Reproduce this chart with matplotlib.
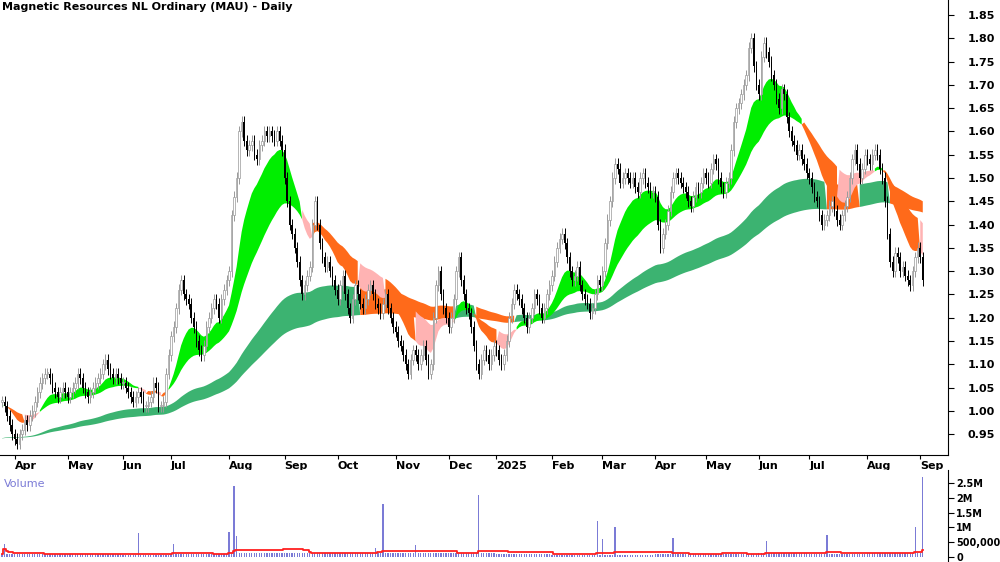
import numpy as np
import pandas as pd
import matplotlib
matplotlib.use("Agg")
import matplotlib.pyplot as plt
from matplotlib.ticker import FixedLocator

title = "Magnetic Resources NL Ordinary (MAU) - Daily"

# trading days per month segment (first segment = end of March 2024)
month_lengths = [5, 21, 22, 19, 23, 22, 21, 23, 21, 19, 22, 20, 21, 20, 21, 20, 23, 21, 2]
month_labels = ["", "Apr", "May", "Jun", "Jul", "Aug", "Sep", "Oct", "Nov", "Dec",
                "2025", "Feb", "Mar", "Apr", "May", "Jun", "Jul", "Aug", "Sep"]

# daily closes
closes = [
    1.02, 1.01, 0.99, 0.97, 0.95,
    0.94, 0.93, 0.95, 0.96, 0.98, 0.97, 0.99, 1.00, 1.02, 1.04, 1.06, 1.07, 1.08, 1.08, 1.07, 1.05, 1.04, 1.03, 1.04, 1.05, 1.04,
    1.03, 1.04, 1.05, 1.06, 1.08, 1.07, 1.05, 1.04, 1.03, 1.04, 1.05, 1.06, 1.07, 1.08, 1.10, 1.11, 1.09, 1.08, 1.07, 1.08, 1.07, 1.06,
    1.06, 1.05, 1.04, 1.03, 1.02, 1.03, 1.04, 1.03, 1.01, 1.01, 1.02, 1.03, 1.06, 1.05, 1.01, 1.01, 1.02, 1.08, 1.12,
    1.16, 1.18, 1.22, 1.26, 1.28, 1.25, 1.24, 1.23, 1.20, 1.18, 1.15, 1.13, 1.12, 1.14, 1.18, 1.20, 1.22, 1.24, 1.23, 1.20, 1.24, 1.26, 1.28,
    1.30, 1.42, 1.46, 1.50, 1.60, 1.62, 1.58, 1.56, 1.57, 1.58, 1.55, 1.54, 1.57, 1.58, 1.60, 1.59, 1.60, 1.59, 1.58, 1.60, 1.58, 1.56,
    1.50, 1.45, 1.40, 1.38, 1.35, 1.32, 1.28, 1.25, 1.27, 1.29, 1.31, 1.40, 1.45, 1.40, 1.36, 1.33, 1.31, 1.32, 1.30, 1.28, 1.26,
    1.24, 1.27, 1.29, 1.25, 1.22, 1.20, 1.24, 1.27, 1.25, 1.23, 1.22, 1.24, 1.26, 1.27, 1.25, 1.23, 1.22, 1.21, 1.23, 1.25, 1.22, 1.20, 1.18,
    1.17, 1.15, 1.14, 1.12, 1.10, 1.08, 1.11, 1.13, 1.12, 1.10, 1.12, 1.14, 1.11, 1.08, 1.10, 1.20, 1.27, 1.30, 1.25, 1.22, 1.20,
    1.18, 1.20, 1.24, 1.30, 1.33, 1.28, 1.25, 1.22, 1.21, 1.18, 1.14, 1.10, 1.08, 1.11, 1.13, 1.12, 1.10, 1.12, 1.14,
    1.13, 1.11, 1.10, 1.12, 1.15, 1.20, 1.23, 1.26, 1.25, 1.24, 1.22, 1.20, 1.18, 1.20, 1.22, 1.25, 1.24, 1.22, 1.20, 1.22, 1.25, 1.27,
    1.29, 1.32, 1.35, 1.37, 1.38, 1.36, 1.33, 1.30, 1.28, 1.29, 1.31, 1.27, 1.25, 1.24, 1.23, 1.21, 1.22, 1.25, 1.28, 1.27,
    1.30, 1.36, 1.41, 1.45, 1.50, 1.53, 1.52, 1.49, 1.50, 1.51, 1.50, 1.49, 1.50, 1.48, 1.47, 1.50, 1.51, 1.49, 1.48, 1.47, 1.47,
    1.46, 1.40, 1.35, 1.38, 1.40, 1.43, 1.47, 1.50, 1.51, 1.50, 1.49, 1.48, 1.47, 1.45, 1.44, 1.46, 1.48, 1.47, 1.49, 1.51,
    1.50, 1.49, 1.52, 1.54, 1.53, 1.50, 1.48, 1.47, 1.49, 1.50, 1.56, 1.62, 1.65, 1.66, 1.68, 1.70, 1.72, 1.78, 1.80, 1.74, 1.70,
    1.68, 1.76, 1.79, 1.77, 1.75, 1.72, 1.70, 1.67, 1.65, 1.69, 1.68, 1.63, 1.60, 1.58, 1.57, 1.55, 1.56, 1.54, 1.53, 1.51,
    1.50, 1.48, 1.46, 1.45, 1.42, 1.40, 1.41, 1.42, 1.44, 1.45, 1.43, 1.41, 1.40, 1.42, 1.44, 1.46, 1.50, 1.54, 1.56, 1.53, 1.50, 1.52, 1.55,
    1.54, 1.53, 1.55, 1.56, 1.55, 1.52, 1.50, 1.45, 1.38, 1.32, 1.30, 1.34, 1.33, 1.30, 1.31, 1.29, 1.28, 1.27, 1.30, 1.33, 1.35,
    1.33, 1.28,
]

# typical daily volume per month segment, plus the visible spikes (day index -> volume)
month_volume = [90e3, 100e3, 90e3, 80e3, 90e3, 150e3, 140e3, 150e3, 130e3, 120e3, 100e3,
                80e3, 60e3, 100e3, 110e3, 120e3, 110e3, 130e3, 150e3]
spike_days = [1, 54, 68, 90, 92, 93, 148, 151, 164, 189, 236, 238, 243, 266, 303, 327, 362, 365]
spike_vols = [430e3, 800e3, 450e3, 850e3, 2.4e6, 700e3, 300e3, 1.8e6, 400e3, 2.1e6,
              1.2e6, 620e3, 1.0e6, 650e3, 550e3, 750e3, 1.0e6, 2.7e6]

price_ticks = [0.95, 1.00, 1.05, 1.10, 1.15, 1.20, 1.25, 1.30, 1.35, 1.40, 1.45,
               1.50, 1.55, 1.60, 1.65, 1.70, 1.75, 1.80, 1.85]
vol_ticks = [0, 500e3, 1e6, 1.5e6, 2e6, 2.5e6]
vol_tick_labels = ["0", "500,000", "1M", "1.5M", "2M", "2.5M"]

# ribbon averages and the levels they stood at when the chart begins
short_spans = [14, 18, 22, 26, 31, 37]
long_spans = [110, 122, 134, 146, 158, 170]
short_seed = 1.01
long_seed = 0.94


def ema(values, span, seed):
    alpha = 2.0 / (span + 1)
    out = np.empty(len(values))
    prev = seed
    for i, v in enumerate(values):
        prev = prev + alpha * (v - prev)
        out[i] = prev
    return out


def smooth_mask(mask, days=7):
    return pd.Series(mask.astype(float)).rolling(days, center=True, min_periods=1).mean().to_numpy() > 0.5


cl = np.asarray(closes, dtype=float)
n = len(cl)
x = np.arange(n)
opens = np.r_[cl[0], cl[:-1]]
highs = np.maximum(opens, cl) + 0.012
lows = np.minimum(opens, cl) - 0.012

month_starts = np.cumsum([0] + month_lengths[:-1])
seg = np.repeat(np.arange(len(month_lengths)), month_lengths)[:n]
volume = np.array([month_volume[s] for s in seg], dtype=float)
for d, v in zip(spike_days, spike_vols):
    if d < n:
        volume[d] = v
vol_avg = pd.Series(volume).rolling(30, min_periods=1).mean().to_numpy()

short = np.column_stack([ema(cl, s, short_seed) for s in short_spans])
long = np.column_stack([ema(cl, s, long_seed) for s in long_spans])
s_lo, s_hi = short.min(1), short.max(1)
l_lo, l_hi = long.min(1), long.max(1)

fig = plt.figure(figsize=(10, 5.62), dpi=100)
ax = fig.add_axes([0.0, 0.19, 0.948, 0.81])
axv = fig.add_axes([0.0, 0.0, 0.948, 0.164])

up = smooth_mask(short[:, 0] > short[:, -1], 3)

# long-term ribbon: orange while the falling short ribbon sits inside or below it
bear_long = smooth_mask((s_lo < l_hi) & ~up, 5)
ax.fill_between(x, l_lo, l_hi, where=~bear_long, color="#3cb371", lw=0, interpolate=True, zorder=1)
ax.fill_between(x, l_lo, l_hi, where=bear_long, color="#ff6a1a", lw=0, interpolate=True, zorder=1)

# short-term ribbon
width = s_hi - s_lo
widening = smooth_mask(np.r_[True, np.diff(width) > 0], 9)
ax.fill_between(x, s_lo, s_hi, where=up, color="#00ee00", lw=0, interpolate=True, zorder=2)
ax.fill_between(x, s_lo, s_hi, where=~up & widening, color="#ff6a1a", lw=0, interpolate=True, zorder=2)
ax.fill_between(x, s_lo, s_hi, where=~up & ~widening, color="#ffb3b3", lw=0, interpolate=True, zorder=2)

# candles
for i in range(n):
    o, c = opens[i], cl[i]
    if c >= o:
        ax.vlines(i, lows[i], highs[i], color="#999999", lw=0.7, zorder=3)
        ax.bar(i, max(c - o, 0.003), bottom=o, width=0.6, color="white",
               edgecolor="#999999", lw=0.5, zorder=4)
    else:
        ax.vlines(i, lows[i], highs[i], color="black", lw=0.7, zorder=3)
        ax.bar(i, o - c, bottom=c, width=0.6, color="black", lw=0, zorder=4)

for a in (ax, axv):
    a.set_xlim(-0.8, 375)
    a.yaxis.tick_right()
    a.tick_params(axis="y", length=4, labelsize=8, pad=10)
    for sp in ("top", "left"):
        a.spines[sp].set_visible(False)

ax.set_ylim(0.905, 1.882)
ax.yaxis.set_major_locator(FixedLocator(price_ticks))
ax.set_yticklabels([f"{t:.2f}" for t in price_ticks], fontweight="bold")
ax.xaxis.set_major_locator(FixedLocator(month_starts[1:]))
ax.set_xticklabels(month_labels[1:], fontweight="bold", fontsize=8, ha="left")
ax.tick_params(axis="x", length=3, pad=1)
ax.text(0.002, 0.995, title, transform=ax.transAxes, ha="left", va="top",
        fontsize=8, fontweight="bold")

axv.bar(x, volume, width=0.5, color="#7b7bd6", zorder=2)
axv.step(x, vol_avg, where="mid", color="#ff2020", lw=1.3, zorder=3)
axv.set_ylim(-0.17e6, 2.94e6)
axv.yaxis.set_major_locator(FixedLocator(vol_ticks))
axv.set_yticklabels(vol_tick_labels, fontweight="bold", fontsize=7)
axv.tick_params(axis="y", pad=2)
axv.set_xticks([])
axv.spines["bottom"].set_visible(False)
axv.text(0.004, 0.9, "Volume", transform=axv.transAxes, ha="left", va="top",
         fontsize=8, color="#7b7bd6")

fig.savefig("out.png", dpi=100)
